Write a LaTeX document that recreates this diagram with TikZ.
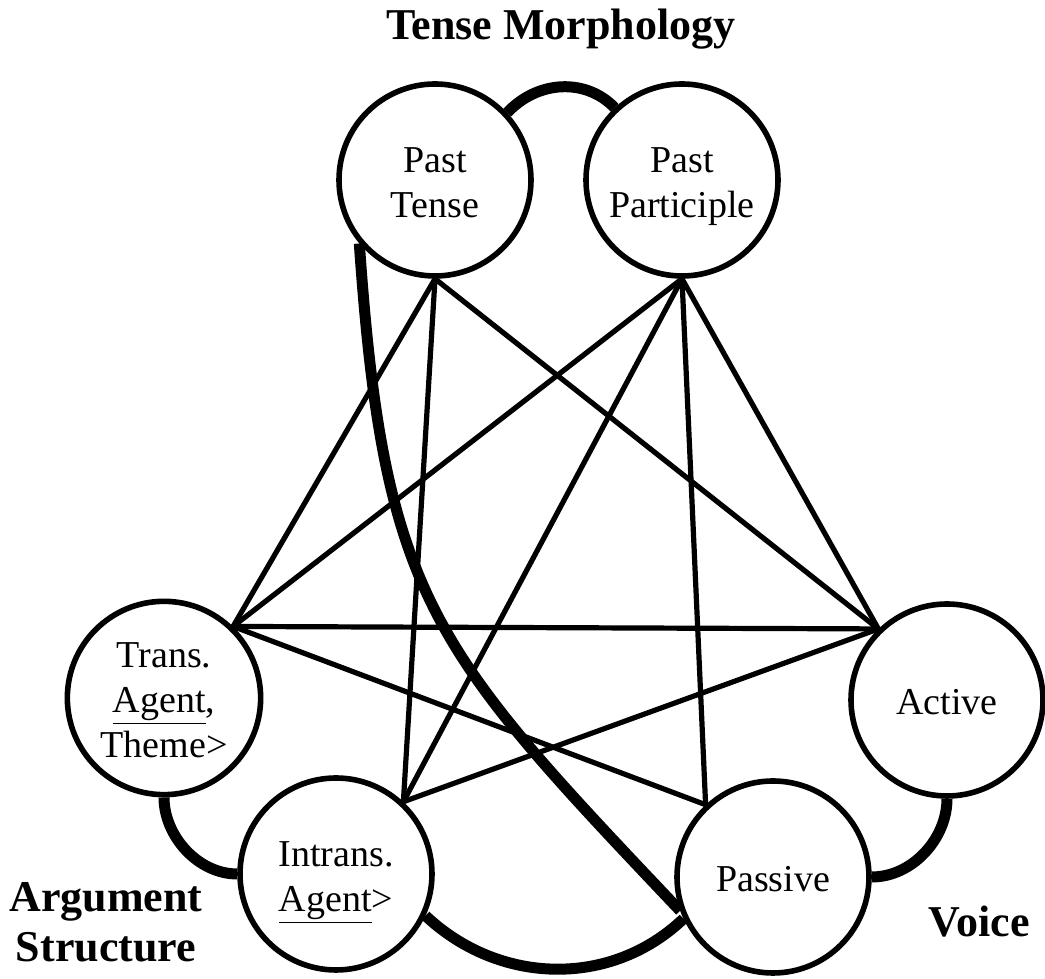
\documentclass[tikz,border=0pt]{standalone}
\usepackage{fontspec}
\setmainfont{Liberation Serif}
\pgfdeclarelayer{bg}
\pgfsetlayers{bg,main}
\newcommand{\firstgap}{\rule{0pt}{21.5pt}}
\begin{document}
\begin{tikzpicture}[x=0.5pt,y=0.5pt,
  state/.style={circle,draw,line width=2.8pt,fill=white,minimum size=96pt,inner sep=0pt,align=center,font=\fontsize{19}{22.5}\selectfont},
  link/.style={line width=2.6pt},
  bond/.style={line width=5.5pt},
  group/.style={font=\fontsize{22}{25}\selectfont\bfseries,inner sep=0pt,align=center}]
\useasboundingbox (0,0) rectangle (1045,979);
\node[state] (pt) at (435,799) {\firstgap Past\strut\\Tense\strut};
\node[state] (pp) at (682,799) {\firstgap Past\strut\\Participle\strut};
\node[state] (tr) at (164,281) {\firstgap Trans.\strut\\\underline{Agent},\strut\\Theme>\strut};
\node[state] (in) at (336,105) {\firstgap Intrans.\strut\\\underline{Agent}>\strut};
\node[state] (ac) at (947,279) {\firstgap Active\strut};
\node[state] (pa) at (773,102) {\firstgap Passive\strut};
\node[group,anchor=base] (tm) at (561,939) {Tense Morphology};
\node[group,anchor=north] (as) at (106,97) {Argument\\Structure};
\node[group,anchor=base] (vo) at (979,42) {Voice};
\begin{pgfonlayer}{bg}
\draw[link] (pt.south) -- (tr.46);
\draw[link] (pt.south) -- (in.47);
\draw[link] (pt.south) -- (ac.134);
\draw[link] (pp.south) -- (tr.46);
\draw[link] (pp.south) -- (in.47);
\draw[link] (pp.south) -- (pa.133);
\draw[link] (pp.south) -- (ac.134);
\draw[link] (tr.46) -- (ac.134);
\draw[link] (tr.46) -- (pa.133);
\draw[link] (in.47) -- (ac.134);
\draw[bond] (pt.43) .. controls (538,899) and (586,901) .. (pp.133);
\draw[bond] (tr.south) .. controls (164,143) and (198,105) .. (in.west);
\draw[bond] (ac.south) .. controls (947,140) and (912,102) .. (pa.east);
\draw[bond] (in.-25) .. controls (499,-6) and (611,-9) .. (pa.205);
\draw[bond] (pt.220) .. controls (384,380) and (432,330) .. (pa.200);
\end{pgfonlayer}
\end{tikzpicture}
\end{document}
